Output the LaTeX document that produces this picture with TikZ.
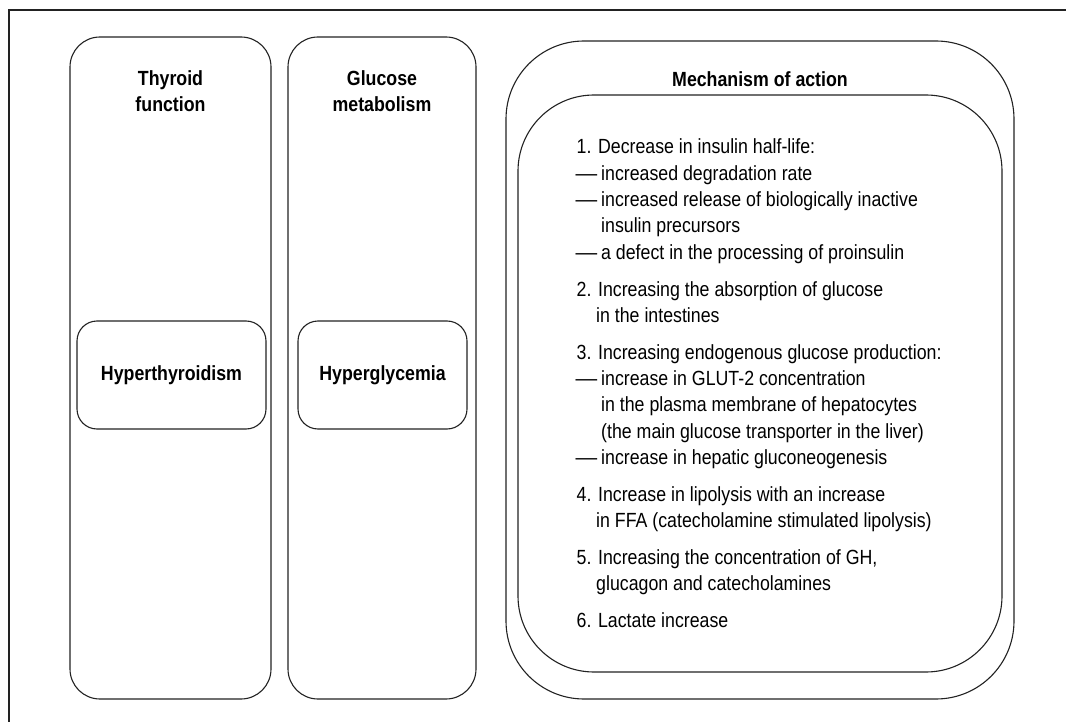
\documentclass[tikz,border=0pt]{standalone}
\usepackage{graphicx}
\usepackage{fontspec}
\setmainfont{Liberation Sans}[FakeStretch=0.866]
\definecolor{ink}{HTML}{222222}
\begin{document}
\begin{tikzpicture}[x=1pt,y=-1pt,
  box/.style={draw=ink, line width=1.1pt, rounded corners=#1, inner sep=0pt, outer sep=0pt},
  ttl/.style={anchor=base, inner sep=0pt, font=\fontsize{20.5}{26}\selectfont\bfseries, text=black},
  ln/.style={anchor=base west, inner sep=0pt, font=\fontsize{20.5}{26}\selectfont, text=black}]
\useasboundingbox (0,0) rectangle (1066,722);
% frame
\draw[ink, line width=1.1pt] (9,722) -- (9,10) -- (1066,10);
% columns
\node[box=30pt, minimum width=201pt, minimum height=662pt] (thy) at (170.5,368) {};
\node[box=30pt, minimum width=188pt, minimum height=662pt] (glu) at (382,368) {};
\node[box=78pt, minimum width=508pt, minimum height=658pt] (mecho) at (760,370) {};
\node[box=76pt, minimum width=484pt, minimum height=577pt] (mechi) at (760,383.5) {};
% inner boxes
\node[box=20pt, minimum width=189pt, minimum height=108pt, font=\fontsize{20.5}{26}\selectfont\bfseries] (hyt) at (171.5,375) {Hyperthyroidism};
\node[box=20pt, minimum width=169pt, minimum height=108pt, font=\fontsize{20.5}{26}\selectfont\bfseries] (hyg) at (382.5,375) {Hyperglycemia};
% titles
\node[ttl] (t1a) at (170.5,86) {Thyroid};
\node[ttl] (t1b) at (170.5,112) {function};
\node[ttl] (t2a) at (382,86) {Glucose};
\node[ttl] (t2b) at (382,112) {metabolism};
\node[ttl] (t3) at (760,87) {Mechanism of action};
% list
\newcommand{\dsh}{\makebox[25.5pt][l]{\scalebox{1.22}[1]{—}}}
\node[ln] (a1) at (576.5,154) {1. Decrease in insulin half-life:};
\node[ln] (a2) at (575.5,180.3) {\dsh increased degradation rate};
\node[ln] (a3) at (575.5,206.6) {\dsh increased release of biologically inactive};
\node[ln] (a4) at (601,232.9) {insulin precursors};
\node[ln] (a5) at (575.5,259.2) {\dsh a defect in the processing of proinsulin};
\node[ln] (b1) at (576.5,296) {2. Increasing the absorption of glucose};
\node[ln] (b2) at (596,322.3) {in the intestines};
\node[ln] (c1) at (576.5,359.1) {3. Increasing endogenous glucose production:};
\node[ln] (c2) at (575.5,385.4) {\dsh increase in GLUT-2 concentration};
\node[ln] (c3) at (601,411.7) {in the plasma membrane of hepatocytes};
\node[ln] (c4) at (601,438) {(the main glucose transporter in the liver)};
\node[ln] (c5) at (575.5,464.3) {\dsh increase in hepatic gluconeogenesis};
\node[ln] (d1) at (576.5,501.1) {4. Increase in lipolysis with an increase};
\node[ln] (d2) at (596,527.4) {in FFA (catecholamine stimulated lipolysis)};
\node[ln] (e1) at (576.5,564.2) {5. Increasing the concentration of GH,};
\node[ln] (e2) at (596,590.5) {glucagon and catecholamines};
\node[ln] (f1) at (576.5,627.3) {6. Lactate increase};
\end{tikzpicture}
\end{document}
